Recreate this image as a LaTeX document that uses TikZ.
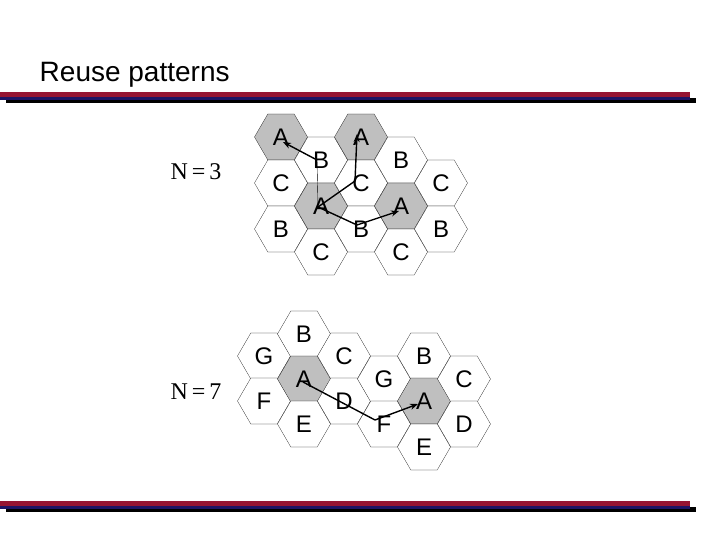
\documentclass[tikz,border=0pt]{standalone}
\usepackage{fontspec}
\setmainfont{Liberation Sans}
\newfontfamily\serifface{Liberation Serif}
\usetikzlibrary{shapes.geometric, arrows.meta}
\definecolor{barred}{RGB}{150,20,50}
\definecolor{barnavy}{RGB}{30,20,100}

\begin{document}
\begin{tikzpicture}[x=1pt, y=-1pt, thick,
                    cell/.style= {regular polygon,
                      regular polygon sides=6,
                      draw, very thin, fill=white,
                      inner sep=0pt,
                      font=\fontsize{24}{24}\selectfont,
                      minimum size=53pt},
                    cell hit/.style= {cell, fill=gray!50},
                    hop/.style= {line width=1.4pt},
                    hop end/.style= {hop, -{Stealth[length=8pt,width=6pt]}}]

  \useasboundingbox (0,0) rectangle (720,540);

  % title and bars
  \node[anchor=base west, font=\fontsize{28}{28}\selectfont] (title) at (36,82) {Reuse patterns};
  \fill[black] (6,98) rectangle (696,103);
  \fill[barnavy] (0,96) rectangle (690,100);
  \fill[barred] (0,92) rectangle (690,97);
  \fill[black] (6,507) rectangle (696,512);
  \fill[barnavy] (0,505) rectangle (690,509);
  \fill[barred] (0,501) rectangle (690,506);

  % N = 3
  \node[font=\serifface\fontsize{24}{24}\selectfont] (n3) at (196,172) {N\,=\,3};
  \node[cell hit] (a1) at (281,137) {A};
  \node[cell] (c1) at (281,183) {C};
  \node[cell] (b1) at (281,229) {B};
  \node[cell] (b2) at (321,160) {B};
  \node[cell hit] (a2) at (321,206) {A};
  \node[cell] (c2) at (321,252) {C};
  \node[cell hit] (a3) at (361,137) {A};
  \node[cell] (c3) at (361,183) {C};
  \node[cell] (b3) at (361,229) {B};
  \node[cell] (b4) at (401,160) {B};
  \node[cell hit] (a4) at (401,206) {A};
  \node[cell] (c4) at (401,252) {C};
  \node[cell] (c5) at (441,183) {C};
  \node[cell] (b5) at (441,229) {B};

  \coordinate (p1) at (318,207);
  \coordinate (q1) at (317,160);
  \coordinate (q2) at (355,181);
  \coordinate (q3) at (357,225);
  \draw[thin] (p1) -- (q1);
  \draw[hop end] (q1) -- (283,142) coordinate (e1);
  \draw[hop] (p1) -- (q2);
  \draw[hop end] (q2) -- (357,134) coordinate (e2);
  \draw[hop] (p1) -- (q3);
  \draw[hop end] (q3) -- (399,211) coordinate (e3);

  % N = 7
  \node[font=\serifface\fontsize{24}{24}\selectfont] (n7) at (196,392) {N\,=\,7};
  \node[cell] (g1) at (264,356) {G};
  \node[cell] (f1) at (264,401) {F};
  \node[cell] (b6) at (304,334) {B};
  \node[cell hit] (a6) at (304,379) {A};
  \node[cell] (e6) at (304,424) {E};
  \node[cell] (c6) at (344,356) {C};
  \node[cell] (d6) at (344,401) {D};
  \node[cell] (g2) at (384,379) {G};
  \node[cell] (f2) at (384,424) {F};
  \node[cell] (b7) at (424,356) {B};
  \node[cell hit] (a7) at (424,401) {A};
  \node[cell] (e7) at (424,447) {E};
  \node[cell] (c7) at (464,379) {C};
  \node[cell] (d7) at (464,424) {D};

  \coordinate (p2) at (303,382);
  \coordinate (q4) at (375,420);
  \draw[hop] (p2) -- (q4);
  \draw[hop end] (q4) -- (418,404) coordinate (e4);
\end{tikzpicture}
\end{document}
